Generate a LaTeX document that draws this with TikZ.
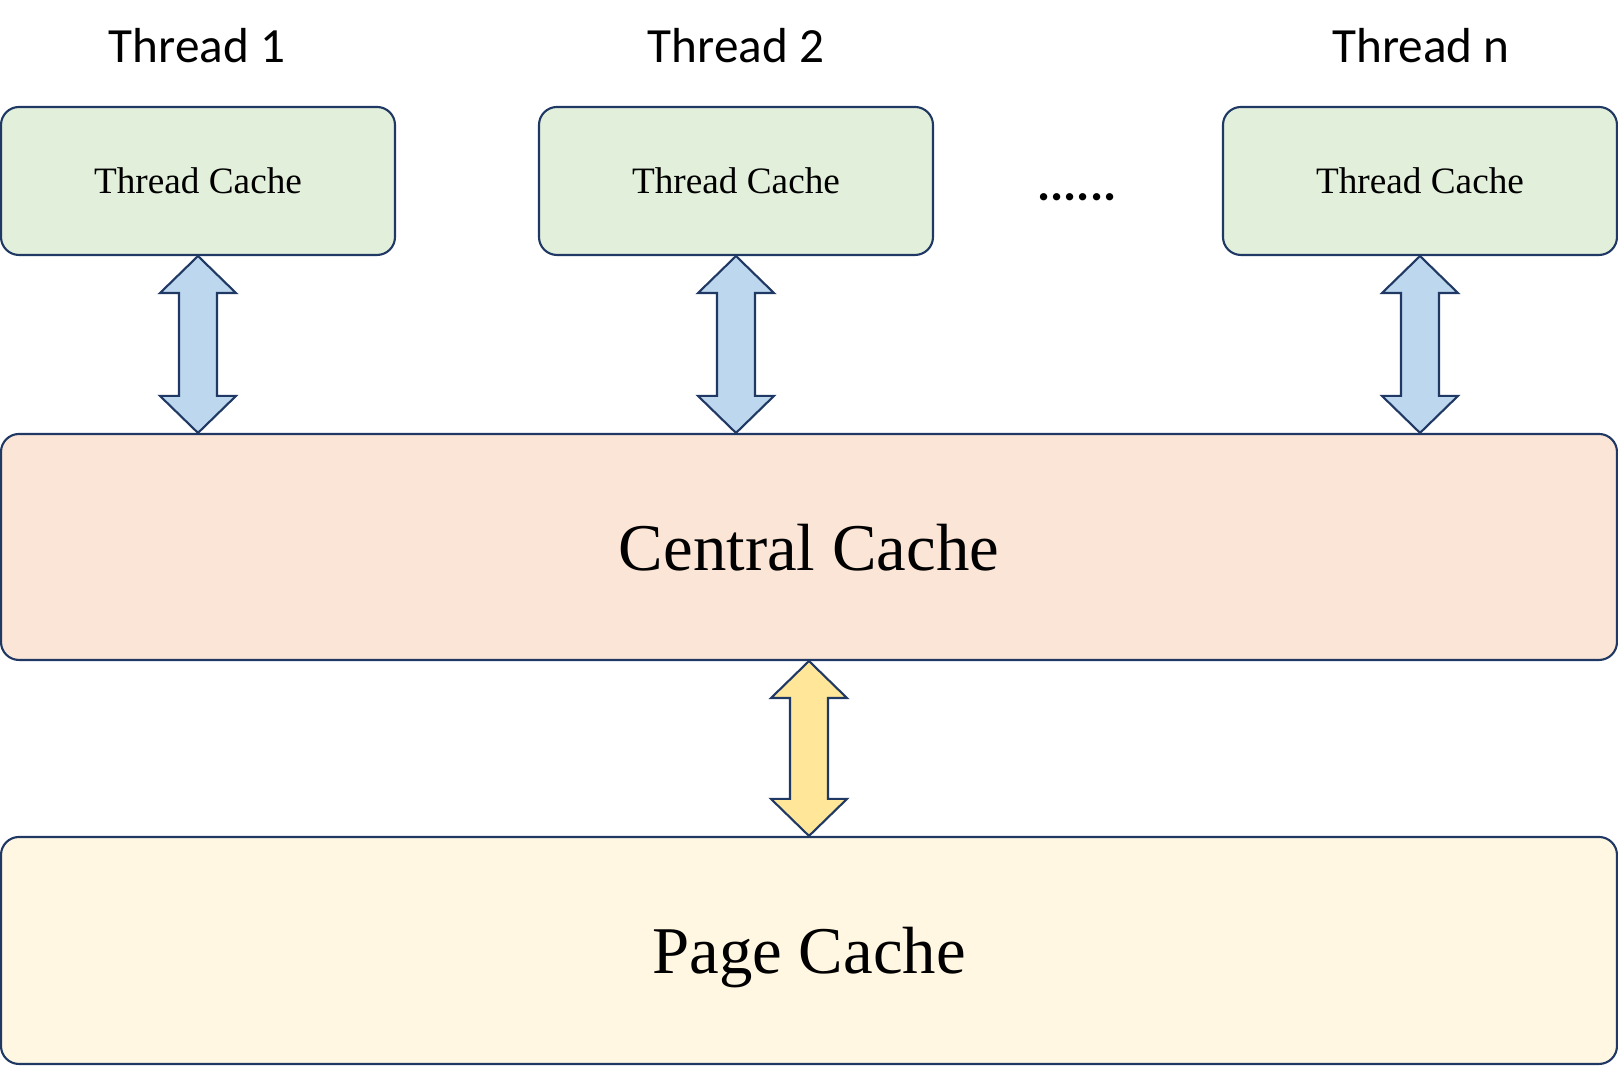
\documentclass[tikz,border=0pt]{standalone}
\usepackage{fontspec}
\setmainfont{Liberation Serif}
\newfontfamily\labelfont{Carlito}
\usetikzlibrary{calc}
\definecolor{edge}{HTML}{1F3864}
\definecolor{tcgreen}{HTML}{E2EFDA}
\definecolor{ccred}{HTML}{FBE5D6}
\definecolor{pcyellow}{HTML}{FFF7E1}
\definecolor{arrblue}{HTML}{BDD7EE}
\definecolor{arryellow}{HTML}{FFE699}
\tikzset{
cachebox/.style={draw=edge, line width=0.6pt, rounded corners=0.18cm, inner sep=0pt},
threadcache/.style={cachebox, fill=tcgreen, minimum width=3.94cm, minimum height=1.48cm,
  font=\fontsize{10.6}{12}\selectfont},
bigcache/.style={cachebox, minimum width=16.16cm, text depth=0pt, font=\fontsize{19}{22}\selectfont},
threadlabel/.style={font=\labelfont\fontsize{14}{16}\selectfont, anchor=base},
arrowline/.style={draw=edge, line width=0.6pt, line join=miter}
}
% double arrow between two anchors on one vertical line
\newcommand{\duplexarrow}[3]{%
  \draw[arrowline, fill=#1] let \p1=(#2), \p2=(#3) in
    (\x1,\y1) -- (\x1+0.38cm,\y1-0.37cm) -- (\x1+0.19cm,\y1-0.37cm)
    -- (\x1+0.19cm,\y2+0.37cm) -- (\x1+0.38cm,\y2+0.37cm) -- (\x1,\y2)
    -- (\x1-0.38cm,\y2+0.37cm) -- (\x1-0.19cm,\y2+0.37cm)
    -- (\x1-0.19cm,\y1-0.37cm) -- (\x1-0.38cm,\y1-0.37cm) -- cycle;
}

\begin{document}
\begin{tikzpicture}
  \useasboundingbox (0,0) rectangle (16.18,10.66);
  \node[threadlabel] (t1) at (1.97,10.03) {Thread 1};
  \node[threadlabel] (t2) at (7.36,10.03) {Thread 2};
  \node[threadlabel] (tn) at (14.21,10.03) {Thread n};
  \node[threadcache] (tc1) at (1.98,8.85) {Thread Cache};
  \node[threadcache] (tc2) at (7.36,8.85) {Thread Cache};
  \node[threadcache] (tcn) at (14.20,8.85) {Thread Cache};
  \node[threadlabel, font=\labelfont\bfseries\fontsize{14}{16}\selectfont] (dots) at (10.77,8.65) {......};
  \node[bigcache, fill=ccred, minimum height=2.26cm] (cc) at (8.09,5.19) {Central Cache};
  \node[bigcache, fill=pcyellow, minimum height=2.27cm] (pc) at (8.09,1.155) {Page Cache};
  \duplexarrow{arrblue}{tc1.south}{tc1.south |- cc.north}
  \duplexarrow{arrblue}{tc2.south}{tc2.south |- cc.north}
  \duplexarrow{arrblue}{tcn.south}{tcn.south |- cc.north}
  \duplexarrow{arryellow}{cc.south}{pc.north}
\end{tikzpicture}
\end{document}
